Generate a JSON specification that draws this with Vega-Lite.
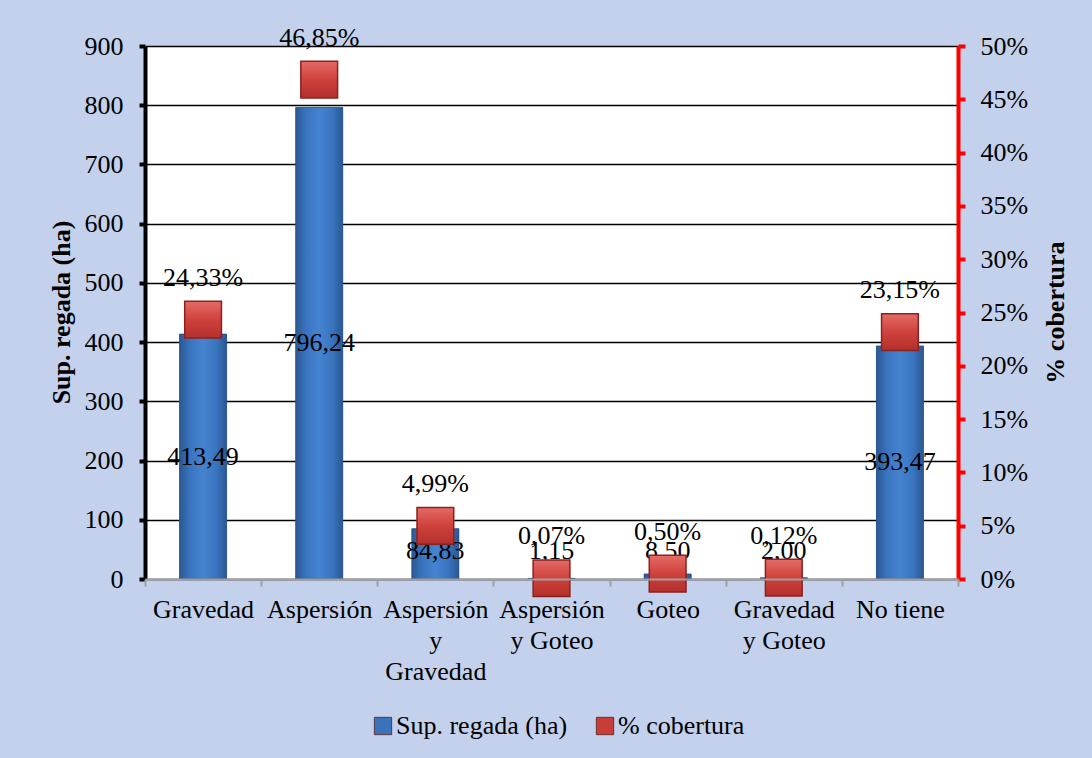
{
  "$schema": "https://vega.github.io/schema/vega-lite/v6.json",
  "width": 813,
  "height": 533,
  "autosize": {"type": "none"},
  "padding": {"left": 145, "top": 46, "right": 134, "bottom": 179},
  "background": "#c3d1ec",
  "config": {
    "font": "Liberation Serif",
    "view": {"fill": "white", "stroke": null},
    "locale": {
      "number": {"decimal": ",", "thousands": ".", "grouping": [3], "currency": ["", " €"]}
    }
  },
  "data": {
    "values": [
      {"sistema": "Gravedad", "sup": 413.49, "cob": 0.2433},
      {"sistema": "Aspersión", "sup": 796.24, "cob": 0.4685},
      {"sistema": "Aspersión y Gravedad", "sup": 84.83, "cob": 0.0499},
      {"sistema": "Aspersión y Goteo", "sup": 1.15, "cob": 0.0007},
      {"sistema": "Goteo", "sup": 8.5, "cob": 0.005},
      {"sistema": "Gravedad y Goteo", "sup": 2.0, "cob": 0.0012},
      {"sistema": "No tiene", "sup": 393.47, "cob": 0.2315}
    ]
  },
  "layer": [
    {
      "layer": [
        {
          "mark": {"type": "bar", "size": 47},
          "encoding": {
            "x": {
              "field": "sistema",
              "type": "nominal",
              "sort": null,
              "scale": {"paddingInner": 0, "paddingOuter": 0},
              "axis": {
                "title": null,
                "labelAngle": 0,
                "labelFontSize": 26,
                "labelColor": "black",
                "labelPadding": 10,
                "labelLineHeight": 31,
                "labelExpr": "datum.label == 'Aspersión y Gravedad' ? ['Aspersión', 'y', 'Gravedad'] : datum.label == 'Aspersión y Goteo' ? ['Aspersión', 'y Goteo'] : datum.label == 'Gravedad y Goteo' ? ['Gravedad', 'y Goteo'] : datum.label",
                "domainColor": "#a0a0a0",
                "domainWidth": 2,
                "tickBand": "extent",
                "tickColor": "#a0a0a0",
                "tickWidth": 2,
                "tickSize": 7,
                "zindex": 1
              }
            },
            "y": {
              "field": "sup",
              "type": "quantitative",
              "scale": {"domain": [0, 900], "nice": false},
              "axis": {
                "title": "Sup. regada (ha)",
                "titleFontSize": 26,
                "titleFontWeight": "bold",
                "titleColor": "black",
                "titleAngle": 270,
                "titleX": -84,
                "titleY": 266,
                "titleAlign": "center",
                "titleBaseline": "middle",
                "values": [0, 100, 200, 300, 400, 500, 600, 700, 800, 900],
                "format": "d",
                "labelFontSize": 26,
                "labelColor": "black",
                "labelPadding": 16,
                "domainColor": "black",
                "domainWidth": 4,
                "tickColor": "black",
                "tickWidth": 4,
                "tickSize": 6,
                "grid": true,
                "gridColor": "black",
                "gridWidth": 1.6,
                "gridOpacity": 1
              }
            },
            "color": {
              "datum": "Sup. regada (ha)",
              "type": "nominal",
              "scale": {
                "domain": ["Sup. regada (ha)", "% cobertura"],
                "range": ["#3a72bb", "#c93d39"]
              },
              "legend": {
                "title": null,
                "orient": "none",
                "direction": "horizontal",
                "legendX": 225,
                "legendY": 667,
                "symbolType": "square",
                "symbolSize": 300,
                "symbolStrokeColor": "#5a1a18",
                "symbolStrokeWidth": 0.8,
                "labelFontSize": 26,
                "labelColor": "black",
                "labelLimit": 400,
                "labelOffset": 0,
                "columnPadding": 24
              }
            }
          }
        },
        {
          "mark": {
            "type": "bar",
            "size": 47,
            "stroke": "#24518a",
            "strokeWidth": 0.8,
            "fill": {"gradient": "linear", "x1": 0, "y1": 0, "x2": 1, "y2": 0, "stops": [
              {"offset": 0, "color": "#2a5893"},
              {"offset": 0.22, "color": "#3a74bf"},
              {"offset": 0.5, "color": "#4583d0"},
              {"offset": 0.78, "color": "#3a74bf"},
              {"offset": 1, "color": "#2a5893"}
            ]}
          },
          "encoding": {
            "x": {"field": "sistema", "type": "nominal", "sort": null},
            "y": {"field": "sup", "type": "quantitative"}
          }
        },
        {
          "transform": [{"calculate": "max(datum.sup / 2, 47)", "as": "mid"}],
          "mark": {"type": "text", "fontSize": 26, "color": "black", "baseline": "middle"},
          "encoding": {
            "x": {"field": "sistema", "type": "nominal", "sort": null},
            "y": {"field": "mid", "type": "quantitative"},
            "text": {"field": "sup", "type": "quantitative", "format": ".2f"}
          }
        }
      ]
    },
    {
      "layer": [
        {
          "mark": {"type": "point", "shape": "square", "filled": true, "size": 1350, "opacity": 1},
          "encoding": {
            "x": {"field": "sistema", "type": "nominal", "sort": null},
            "y": {
              "field": "cob",
              "type": "quantitative",
              "scale": {"domain": [0, 0.5], "nice": false},
              "axis": {
                "orient": "right",
                "title": "% cobertura",
                "titleFontSize": 26,
                "titleFontWeight": "bold",
                "titleColor": "black",
                "titleAngle": 270,
                "titleX": 97,
                "titleY": 266,
                "titleAlign": "center",
                "titleBaseline": "middle",
                "values": [0, 0.05, 0.1, 0.15, 0.2, 0.25, 0.3, 0.35, 0.4, 0.45, 0.5],
                "format": ".0%",
                "labelFontSize": 26,
                "labelColor": "black",
                "labelPadding": 15,
                "domainColor": "#ff0000",
                "domainWidth": 4,
                "tickColor": "#ff0000",
                "tickWidth": 4,
                "tickSize": 7,
                "grid": false
              }
            },
            "color": {"datum": "% cobertura", "type": "nominal"}
          }
        },
        {
          "mark": {
            "type": "point",
            "shape": "square",
            "filled": true,
            "size": 1350,
            "opacity": 1,
            "stroke": "#8a2320",
            "strokeWidth": 1.5,
            "fill": {"gradient": "linear", "x1": 0, "y1": 0, "x2": 0, "y2": 1, "stops": [
              {"offset": 0, "color": "#e46b66"},
              {"offset": 0.5, "color": "#cf413c"},
              {"offset": 1, "color": "#b3302c"}
            ]}
          },
          "encoding": {
            "x": {"field": "sistema", "type": "nominal", "sort": null},
            "y": {"field": "cob", "type": "quantitative"}
          }
        },
        {
          "mark": {"type": "text", "fontSize": 26, "color": "black", "baseline": "middle", "dy": -42},
          "encoding": {
            "x": {"field": "sistema", "type": "nominal", "sort": null},
            "y": {"field": "cob", "type": "quantitative"},
            "text": {"field": "cob", "type": "quantitative", "format": ".2%"}
          }
        }
      ]
    }
  ],
  "resolve": {"scale": {"y": "independent"}}
}
